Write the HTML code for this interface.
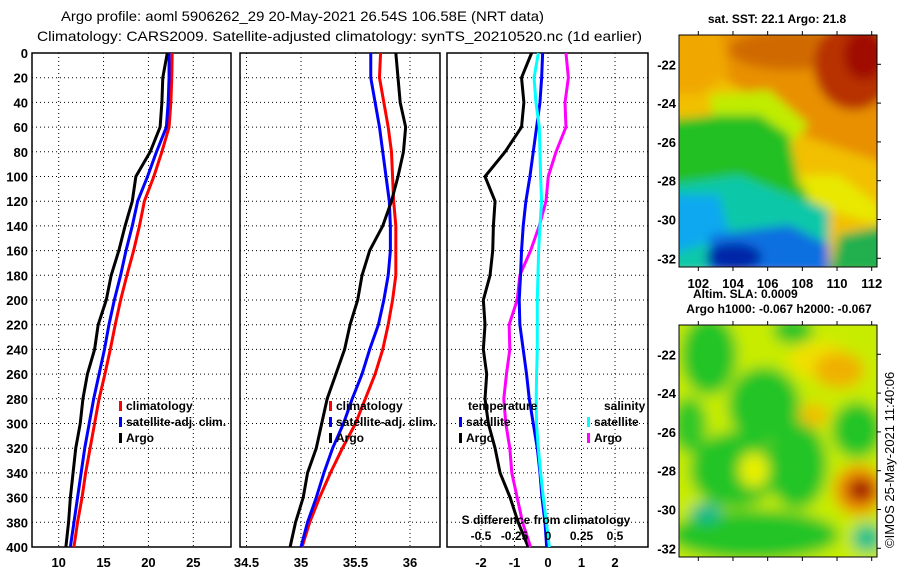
<!DOCTYPE html>
<html><head><meta charset="utf-8"><style>
html,body{margin:0;padding:0;background:#fff;}
svg{display:block;font-family:"Liberation Sans",sans-serif;}
.tk{font-size:13px;font-weight:bold;fill:#000;}
.lg{font-size:12px;font-weight:bold;fill:#000;}
</style></head><body>
<svg id="chart" width="900" height="580" viewBox="0 0 900 580" xmlns="http://www.w3.org/2000/svg">
<defs>
<filter id="b1" x="-20%" y="-20%" width="140%" height="140%"><feGaussianBlur stdDeviation="5"/></filter>
<filter id="b2" x="-20%" y="-20%" width="140%" height="140%"><feGaussianBlur stdDeviation="7"/></filter>
<clipPath id="c1"><rect x="0" y="0" width="198" height="232"/></clipPath>
</defs>
<text x="61" y="21" font-size="14" textLength="483" lengthAdjust="spacingAndGlyphs">Argo profile: aoml 5906262_29 20-May-2021 26.54S 106.58E (NRT data)</text>
<text x="37" y="41" font-size="14" textLength="605" lengthAdjust="spacingAndGlyphs">Climatology: CARS2009. Satellite-adjusted climatology: synTS_20210520.nc (1d earlier)</text>

<!-- SST map -->
<g transform="translate(679,35)">
<g clip-path="url(#c1)"><g filter="url(#b1)">
<rect x="-10" y="-10" width="220" height="260" fill="#f2c000"/>
<polygon points="40,-10 210,-10 210,130 150,110 110,95 70,60 40,40" fill="#e89000"/>
<ellipse cx="110" cy="15" rx="60" ry="20" fill="#d06a00"/>
<ellipse cx="175" cy="30" rx="40" ry="45" fill="#b83000"/>
<ellipse cx="185" cy="20" rx="20" ry="25" fill="#a01000"/>
<polygon points="-10,-10 40,-10 50,40 20,60 -10,60" fill="#f0a800"/>
<polygon points="30,60 90,55 130,90 110,110 40,110" fill="#c0ec00"/>
<polygon points="-10,85 40,80 80,80 110,100 120,150 150,165 140,200 90,200 -10,200" fill="#22c020"/>
<polygon points="120,140 160,140 200,170 200,190 150,175 130,165" fill="#e8e800"/>
<polygon points="-10,150 60,140 110,160 150,175 150,240 -10,240" fill="#10c8a8"/>
<polygon points="-10,160 40,160 50,200 -10,220" fill="#10a8f0"/>
<polygon points="30,200 110,190 150,210 150,240 30,240" fill="#1070e0"/>
<ellipse cx="55" cy="222" rx="28" ry="14" fill="#0028a8"/>
<polygon points="160,200 210,190 210,240 150,240" fill="#20b050"/>
</g></g>
<rect x="0" y="0" width="198" height="232" fill="none" stroke="#000" stroke-width="1"/>
</g>
<text x="777" y="23" text-anchor="middle" class="lg">sat. SST: 22.1 Argo: 21.8</text>
<text x="693" y="298" class="lg">Altim. SLA: 0.0009</text>
<text x="779" y="313" text-anchor="middle" class="lg">Argo h1000: -0.067 h2000: -0.067</text>

<!-- SLA map -->
<g transform="translate(679,325)">
<g clip-path="url(#c1)"><g filter="url(#b2)">
<rect x="-20" y="-20" width="240" height="280" fill="#c8ec00"/>
<ellipse cx="30" cy="30" rx="28" ry="40" fill="#20c428"/>
<ellipse cx="114" cy="5" rx="20" ry="14" fill="#20c428"/>
<ellipse cx="85" cy="80" rx="36" ry="38" fill="#20c428"/>
<ellipse cx="55" cy="145" rx="44" ry="38" fill="#20c428"/>
<ellipse cx="118" cy="140" rx="30" ry="44" fill="#20c428"/>
<ellipse cx="178" cy="105" rx="25" ry="28" fill="#20c428"/>
<ellipse cx="75" cy="210" rx="85" ry="25" fill="#20c428"/>
<ellipse cx="10" cy="100" rx="18" ry="28" fill="#30c828"/>
<ellipse cx="140" cy="35" rx="30" ry="18" fill="#f0e000"/>
<ellipse cx="75" cy="145" rx="15" ry="18" fill="#e8f000"/>
<ellipse cx="135" cy="90" rx="15" ry="12" fill="#f0c000"/>
<ellipse cx="160" cy="45" rx="25" ry="18" fill="#f0b000"/>
<ellipse cx="180" cy="165" rx="25" ry="25" fill="#f09000"/>
<ellipse cx="182" cy="165" rx="14" ry="12" fill="#a00000"/>
<ellipse cx="27" cy="188" rx="16" ry="10" fill="#10b890"/>
<ellipse cx="188" cy="213" rx="15" ry="14" fill="#10c090"/>
</g></g>
<rect x="0" y="0" width="198" height="232" fill="none" stroke="#000" stroke-width="1"/>
</g>
<text transform="translate(894,548) rotate(-90)" font-size="13">©IMOS 25-May-2021 11:40:06</text>

<g id="plots"></g>
</svg>
<script>
const depths=[0,20,40,60,80,100,120,140,160,180,200,220,240,260,280,300,320,340,360,380,400];
const tempClim=[22.65,22.6,22.5,22.3,21.5,20.6,19.55,19.0,18.35,17.6,16.9,16.3,15.75,15.15,14.5,14.0,13.5,13.0,12.6,12.1,11.7];
const tempSat=[22.3,22.3,22.2,22.0,20.9,19.9,18.8,18.2,17.5,16.9,16.2,15.6,15.1,14.5,13.9,13.4,12.9,12.5,12.1,11.7,11.3];
const tempArgo=[22.1,21.6,21.5,21.3,20.2,18.6,18.2,17.4,16.7,15.85,15.3,14.4,14.0,13.2,12.7,12.4,11.9,11.6,11.3,11.1,10.8];
const salClim=[35.73,35.72,35.76,35.8,35.83,35.84,35.85,35.87,35.87,35.87,35.84,35.8,35.75,35.68,35.59,35.5,35.38,35.27,35.17,35.08,35.01];
const salSat=[35.64,35.64,35.68,35.72,35.75,35.78,35.81,35.82,35.82,35.8,35.76,35.71,35.63,35.56,35.47,35.39,35.29,35.21,35.14,35.06,35.0];
const salArgo=[35.87,35.89,35.91,35.96,35.94,35.89,35.83,35.75,35.63,35.56,35.52,35.45,35.4,35.32,35.24,35.19,35.14,35.06,35.02,34.95,34.9];
const dTempSat=[-0.16,-0.19,-0.24,-0.34,-0.44,-0.54,-0.66,-0.74,-0.79,-0.82,-0.86,-0.84,-0.74,-0.64,-0.56,-0.44,-0.32,-0.24,-0.18,-0.09,-0.04];
const dTempArgo=[-0.49,-0.79,-0.72,-0.79,-1.28,-1.88,-1.58,-1.63,-1.65,-1.73,-1.93,-1.88,-1.93,-1.83,-1.88,-1.78,-1.58,-1.43,-1.13,-0.89,-0.59];
const dSalSat=[-0.072,-0.104,-0.09,-0.065,-0.06,-0.055,-0.048,-0.06,-0.07,-0.075,-0.08,-0.08,-0.08,-0.085,-0.088,-0.086,-0.072,-0.055,-0.035,-0.012,0.01];
const dSalArgo=[0.134,0.152,0.127,0.134,0.06,0.002,-0.015,-0.065,-0.13,-0.21,-0.23,-0.29,-0.285,-0.31,-0.33,-0.315,-0.285,-0.27,-0.23,-0.19,-0.13];
const depthTicks=[0,20,40,60,80,100,120,140,160,180,200,220,240,260,280,300,320,340,360,380,400];
const tempTicks=[10,15,20,25];
const salTicks=[34.5,35,35.5,36];
const salTickLabels=["34.5","35","35.5","36"];
const diffTicks=[-2,-1,0,1,2];
const sDiffTicks=[-0.5,-0.25,0,0.25,0.5];
const latTicks=[-22,-24,-26,-28,-30,-32];
const lonTicks=[102,104,106,108,110,112];

const NS='http://www.w3.org/2000/svg';
const root=document.getElementById('plots');
function mk(tag,attrs,parent){const e=document.createElementNS(NS,tag);for(const k in attrs)e.setAttribute(k,attrs[k]);(parent||root).appendChild(e);return e;}
const top0=53,bot0=547;
const yD=d=>top0+d*(bot0-top0)/400;
function lin(d0,d1,r0,r1){return v=>r0+(v-d0)*(r1-r0)/(d1-d0);}
const xT=lin(10,25,58.7,193.3);
const xS=lin(35,36,301,410);
const xD=lin(0,1,548,581.5);
const xSD=lin(0,0.25,548,581.5);
const panels=[{x0:32,x1:231,name:'temperature-panel'},{x0:240,x1:440,name:'salinity-panel'},{x0:447,x1:648,name:'difference-panel'}];

function panelFrame(p,vticks,vx){
  const g=mk('g',{});
  
  
  vticks.forEach(v=>{const l=mk('line',{x1:vx(v),x2:vx(v),y1:top0,y2:bot0,stroke:'#000','stroke-width':1,'stroke-dasharray':'1,3'},g);
    
    });
  depthTicks.forEach(d=>{if(d===0||d===400)return;const l=mk('line',{x1:p.x0,x2:p.x1,y1:yD(d),y2:yD(d),stroke:'#000','stroke-width':1,'stroke-dasharray':'1,3'},g);
    
    });
  const r=mk('rect',{x:p.x0,y:top0,width:p.x1-p.x0,height:bot0-top0,fill:'none',stroke:'#000','stroke-width':1.5},g);
  
  
  return g;
}
function series(g,xs,vals,color,name){
  const pts=vals.map((v,i)=>xs(v)+','+yD(depths[i]));
  const pl=mk('polyline',{points:pts.join(' '),fill:'none',stroke:color,'stroke-width':3,'stroke-linejoin':'round'},g);
  
  
}
function txt(g,x,y,s,cls,anchor,name){const t=mk('text',{x:x,y:y,class:cls,'text-anchor':anchor||'start'},g);t.textContent=s;
  
  return t;}
function legend(g,x,y,color,label,name){
  const m=mk('rect',{x:x,y:y-9,width:3,height:10,fill:color},g);
  
  
  txt(g,x+7,y,label,'lg','start',name);
}

depthTicks.forEach(d=>{txt(root,28,yD(d)+5,String(d),'tk','end','depth-tick-label');});

const g1=panelFrame(panels[0],tempTicks,xT);
series(g1,xT,tempClim,'#ff0000','temp-climatology-line');
series(g1,xT,tempSat,'#0000ff','temp-satellite-line');
series(g1,xT,tempArgo,'#000000','temp-argo-line');
tempTicks.forEach(v=>txt(root,xT(v),567,String(v),'tk','middle','temp-tick-label'));
legend(g1,119,410,'#ff0000','climatology','legend-climatology');
legend(g1,119,426,'#0000ff','satellite-adj. clim.','legend-satellite-adj');
legend(g1,119,442,'#000000','Argo','legend-argo');

const g2=panelFrame(panels[1],salTicks,xS);
series(g2,xS,salClim,'#ff0000','sal-climatology-line');
series(g2,xS,salSat,'#0000ff','sal-satellite-line');
series(g2,xS,salArgo,'#000000','sal-argo-line');
salTicks.forEach((v,i)=>txt(root,xS(v),567,salTickLabels[i],'tk','middle','sal-tick-label'));
legend(g2,329,410,'#ff0000','climatology','legend-climatology-2');
legend(g2,329,426,'#0000ff','satellite-adj. clim.','legend-satellite-adj-2');
legend(g2,329,442,'#000000','Argo','legend-argo-2');

const g3=panelFrame(panels[2],diffTicks,xD);
series(g3,xD,dTempArgo,'#000000','temp-diff-argo-line');
series(g3,xSD,dSalArgo,'#ff00ff','sal-diff-argo-line');
series(g3,xD,dTempSat,'#0000ff','temp-diff-satellite-line');
series(g3,xSD,dSalSat,'#00ffff','sal-diff-satellite-line');
diffTicks.forEach(v=>txt(root,xD(v),567,String(v),'tk','middle','diff-tick-label'));
txt(g3,468,410,'temperature','lg','start','legend-temperature-heading');
legend(g3,459,426,'#0000ff','satellite','legend-temp-satellite');
legend(g3,459,442,'#000000','Argo','legend-temp-argo');
txt(g3,604,410,'salinity','lg','start','legend-salinity-heading');
legend(g3,587,426,'#00ffff','satellite','legend-sal-satellite');
legend(g3,587,442,'#ff00ff','Argo','legend-sal-argo');
txt(g3,546,524,'S difference from climatology','lg','middle','s-diff-axis-title');
sDiffTicks.forEach(v=>txt(g3,xSD(v),540,String(v),'lg','middle','s-diff-tick-label'));

const yLat=lin(-22,-32,64.3,258.3);
const xLon=lin(102,112,698.3,871.7);
[0,290].forEach((off,mi)=>{
  latTicks.forEach(v=>{
    txt(root,676,yLat(v)+off+5,String(v),'tk','end','lat-tick-label');
    const t=mk('line',{x1:877,x2:881,y1:yLat(v)+off,y2:yLat(v)+off,stroke:'#000'});
    
    
  });
  lonTicks.forEach(v=>{
    const t=mk('line',{x1:xLon(v),x2:xLon(v),y1:267+off,y2:271+off,stroke:'#000'});
    
    
    const t2=mk('line',{x1:xLon(v),x2:xLon(v),y1:31+off,y2:35+off,stroke:'#000'});
    
    
    if(mi===0)txt(root,xLon(v),288,String(v),'tk','middle','lon-tick-label');
  });
});
</script>
</body></html>
